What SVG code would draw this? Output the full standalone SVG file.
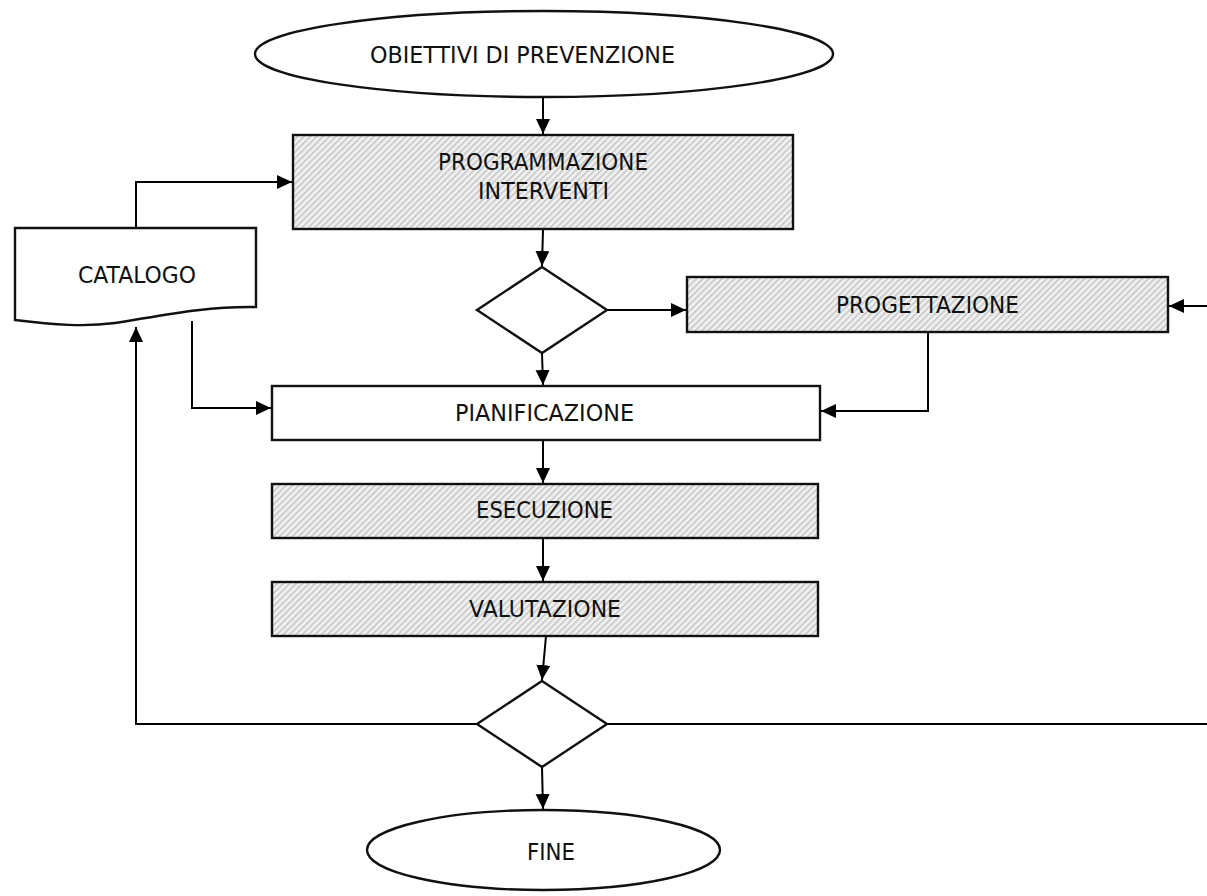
<svg xmlns="http://www.w3.org/2000/svg" width="1207" height="896" viewBox="0 0 1207 896">
<defs>
<pattern id="hatch" width="4.5" height="4.5" patternUnits="userSpaceOnUse" patternTransform="rotate(45)">
<rect width="4.5" height="4.5" fill="#f2f2f2"/>
<rect width="2" height="4.5" fill="#cdcdcd"/>
</pattern>
<marker id="arr" markerWidth="16" markerHeight="16" refX="15" refY="7" orient="auto" markerUnits="userSpaceOnUse">
<path d="M0,0 L15,7 L0,14 z" fill="#000"/>
</marker>
<style>
.shape{stroke:#111;stroke-width:2.4;}
.plain{fill:#fff;}
.hatched{fill:url(#hatch);}
.lbl{font-family:"DejaVu Sans",sans-serif;font-size:23px;fill:#111;}
.conn{fill:none;stroke:#000;stroke-width:2;}
</style>
</defs>
<rect width="1207" height="896" fill="#fff"/>

<g id="connectors">
<path class="conn" d="M543,97 V134" marker-end="url(#arr)"/>
<path class="conn" d="M136,228 V182 H292" marker-end="url(#arr)"/>
<path class="conn" d="M543,230 L542,266" marker-end="url(#arr)"/>
<path class="conn" d="M607,310 H686" marker-end="url(#arr)"/>
<path class="conn" d="M542,353 L543,385" marker-end="url(#arr)"/>
<path class="conn" d="M1207,306 H1169" marker-end="url(#arr)"/>
<path class="conn" d="M928,332 V411 H821" marker-end="url(#arr)"/>
<path class="conn" d="M192,321 V408 H271" marker-end="url(#arr)"/>
<path class="conn" d="M543,440 V483" marker-end="url(#arr)"/>
<path class="conn" d="M543,538 V581" marker-end="url(#arr)"/>
<path class="conn" d="M546,636 L542,680" marker-end="url(#arr)"/>
<path class="conn" d="M477,724 H136 V327" marker-end="url(#arr)"/>
<path class="conn" d="M607,724 H1207"/>
<path class="conn" d="M542,767 L543,809" marker-end="url(#arr)"/>
</g>

<g id="obiettivi">
<ellipse class="shape plain" cx="544" cy="54" rx="289" ry="43"/>
<text class="lbl" x="370" y="63" textLength="305" lengthAdjust="spacingAndGlyphs">OBIETTIVI DI PREVENZIONE</text>
</g>

<g id="programmazione">
<rect class="shape hatched" x="293" y="135" width="500" height="94"/>
<text class="lbl" x="438" y="170" textLength="210" lengthAdjust="spacingAndGlyphs">PROGRAMMAZIONE</text>
<text class="lbl" x="478" y="199" textLength="131" lengthAdjust="spacingAndGlyphs">INTERVENTI</text>
</g>

<g id="catalogo">
<path class="shape plain" d="M15,228 H256 V307 C205,306 160,316 115,323 C85,327 55,325 15,320 Z"/>
<text class="lbl" x="78" y="283" textLength="118" lengthAdjust="spacingAndGlyphs">CATALOGO</text>
</g>

<g id="decisione1">
<polygon class="shape plain" points="542,267 607,310 542,353 477,310"/>
</g>

<g id="progettazione">
<rect class="shape hatched" x="687" y="277" width="481" height="55"/>
<text class="lbl" x="836" y="313" textLength="183" lengthAdjust="spacingAndGlyphs">PROGETTAZIONE</text>
</g>

<g id="pianificazione">
<rect class="shape plain" x="272" y="386" width="548" height="54"/>
<text class="lbl" x="455" y="421" textLength="179" lengthAdjust="spacingAndGlyphs">PIANIFICAZIONE</text>
</g>

<g id="esecuzione">
<rect class="shape hatched" x="272" y="484" width="546" height="54"/>
<text class="lbl" x="476" y="518" textLength="137" lengthAdjust="spacingAndGlyphs">ESECUZIONE</text>
</g>

<g id="valutazione">
<rect class="shape hatched" x="272" y="582" width="546" height="54"/>
<text class="lbl" x="469" y="617" textLength="152" lengthAdjust="spacingAndGlyphs">VALUTAZIONE</text>
</g>

<g id="decisione2">
<polygon class="shape plain" points="542,681 607,724 542,767 477,724"/>
</g>

<g id="fine">
<ellipse class="shape plain" cx="543.5" cy="850" rx="176.5" ry="40"/>
<text class="lbl" x="527" y="860" textLength="48" lengthAdjust="spacingAndGlyphs">FINE</text>
</g>
</svg>
